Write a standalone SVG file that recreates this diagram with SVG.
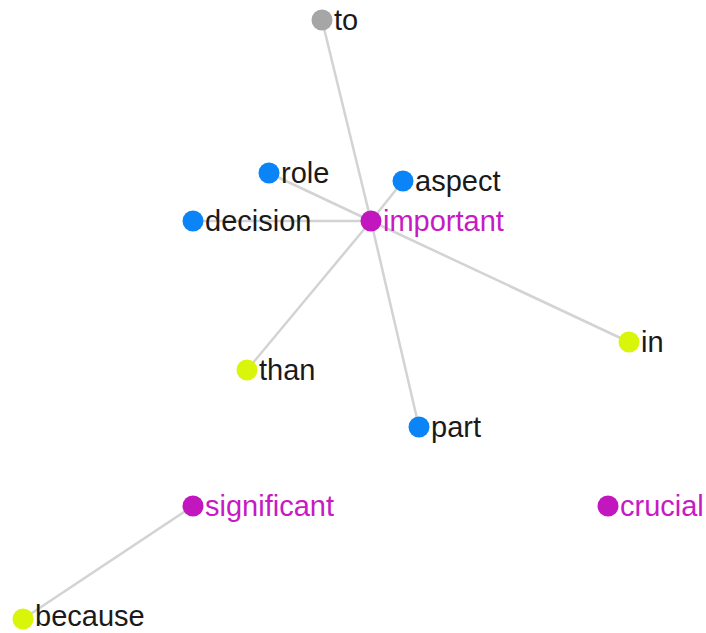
<svg xmlns="http://www.w3.org/2000/svg" width="706" height="633" viewBox="0 0 706 633">
<style>
  .edge { stroke: #d3d3d3; stroke-width: 2.5; fill: none; }
  .lbl { font-family: "Liberation Sans", Arial, sans-serif; font-size: 29px; }
  .dark { fill: #1a1a1a; }
  .pink { fill: #c71ac4; }
  .c-blue { fill: #0a84f7; }
  .c-pink { fill: #c216bf; }
  .c-lime { fill: #d8f50a; }
  .c-gray { fill: #a6a6a6; }
</style>
<rect width="706" height="633" fill="#ffffff"/>
<g id="connectors">
  <line class="edge" x1="371" y1="221" x2="322" y2="20"/>
  <line class="edge" x1="371" y1="221" x2="269" y2="173"/>
  <line class="edge" x1="371" y1="221" x2="403" y2="181"/>
  <line class="edge" x1="371" y1="221" x2="193" y2="221"/>
  <line class="edge" x1="371" y1="221" x2="629" y2="342"/>
  <line class="edge" x1="371" y1="221" x2="247" y2="370"/>
  <line class="edge" x1="371" y1="221" x2="419" y2="427"/>
  <line class="edge" x1="193" y1="506" x2="23" y2="619"/>
</g>
<g id="node-to"><circle class="c-gray" cx="322" cy="20" r="10.5"/><text class="lbl dark" x="334" y="30">to</text></g>
<g id="node-role"><circle class="c-blue" cx="269" cy="173" r="10.5"/><text class="lbl dark" x="281" y="183">role</text></g>
<g id="node-aspect"><circle class="c-blue" cx="403" cy="181" r="10.5"/><text class="lbl dark" x="415" y="191">aspect</text></g>
<g id="node-decision"><circle class="c-blue" cx="193" cy="221" r="10.5"/><text class="lbl dark" x="205" y="231">decision</text></g>
<g id="node-important"><circle class="c-pink" cx="371" cy="221" r="10.5"/><text class="lbl pink" x="383" y="231">important</text></g>
<g id="node-in"><circle class="c-lime" cx="629" cy="342" r="10.5"/><text class="lbl dark" x="641" y="352">in</text></g>
<g id="node-than"><circle class="c-lime" cx="247" cy="370" r="10.5"/><text class="lbl dark" x="259" y="380">than</text></g>
<g id="node-part"><circle class="c-blue" cx="419" cy="427" r="10.5"/><text class="lbl dark" x="431" y="437">part</text></g>
<g id="node-significant"><circle class="c-pink" cx="193" cy="506" r="10.5"/><text class="lbl pink" x="205" y="516">significant</text></g>
<g id="node-crucial"><circle class="c-pink" cx="608" cy="506" r="10.5"/><text class="lbl pink" x="620" y="516">crucial</text></g>
<g id="node-because"><circle class="c-lime" cx="23" cy="619" r="10.5"/><text class="lbl dark" x="35" y="626">because</text></g>
</svg>
